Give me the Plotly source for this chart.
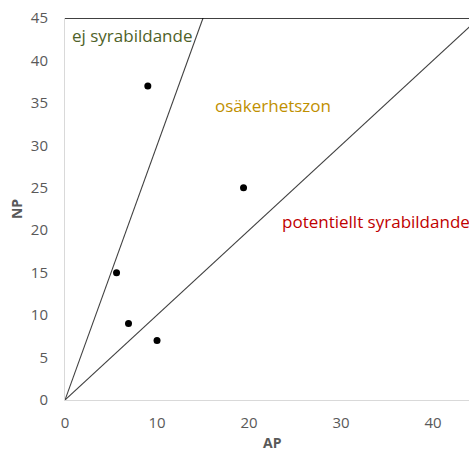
import plotly.graph_objects as go

# data
ap_values = [9.0, 5.6, 6.9, 10.0, 19.4]
np_values = [37.0, 15.0, 9.0, 7.0, 25.0]
boundary_ap = [0, 15]
boundary_np = [0, 45]
equal_ap = [0, 45]
equal_np = [0, 45]
x_ticks = [0, 10, 20, 30, 40]
y_ticks = [0, 5, 10, 15, 20, 25, 30, 35, 40, 45]
zone_labels = ["ej syrabildande", "osäkerhetszon", "potentiellt syrabildande"]
zone_x = [0.5, 16.1, 23.4]
zone_y = [42.9, 34.7, 21.0]
zone_colors = ["#4F6228", "#BF9000", "#C00000"]

fig = go.Figure()
fig.add_trace(go.Scatter(x=boundary_ap, y=boundary_np, mode="lines",
                         line=dict(color="#404040", width=1.1), showlegend=False, hoverinfo="skip"))
fig.add_trace(go.Scatter(x=equal_ap, y=equal_np, mode="lines",
                         line=dict(color="#404040", width=1.1), showlegend=False, hoverinfo="skip"))
fig.add_trace(go.Scatter(x=ap_values, y=np_values, mode="markers",
                         marker=dict(color="black", size=7), showlegend=False))

for t, x, y, c in zip(zone_labels, zone_x, zone_y, zone_colors):
    fig.add_annotation(x=x, y=y, text=t, showarrow=False, xanchor="left", yanchor="middle",
                       font=dict(family="Open Sans", size=17, color=c))

# x-axis title placed as annotation below tick labels
fig.add_annotation(x=22.5, y=-0.112, yref="paper", text="<b>AP</b>", showarrow=False,
                   xanchor="center", yanchor="middle", borderpad=0,
                   font=dict(family="Open Sans", size=14, color="#595959"))

fig.add_shape(type="line", xref="paper", yref="y", x0=0, x1=1, y0=45, y1=45,
              line=dict(color="black", width=1.3))

fig.update_layout(
    width=469, height=453,
    margin=dict(l=65, r=0, t=18, b=53),
    plot_bgcolor="white", paper_bgcolor="white",
    font=dict(family="Open Sans", size=15, color="#595959"),
)
fig.update_xaxes(range=[0, 43.9], tickvals=x_ticks, showgrid=False, zeroline=False,
                 showline=True, linecolor="#D9D9D9", linewidth=1, ticks="",
                 ticklabelstandoff=9)
fig.update_yaxes(range=[0, 45], tickvals=y_ticks, showgrid=False, zeroline=False,
                 showline=True, linecolor="#D9D9D9", linewidth=1, ticks="",
                 ticklabelstandoff=13,
                 title=dict(text="<b>NP</b>", font=dict(size=14, color="#595959"), standoff=4))

fig.write_html("out.html", config={"displayModeBar": False},
               post_script="document.body.style.margin='0px';")
